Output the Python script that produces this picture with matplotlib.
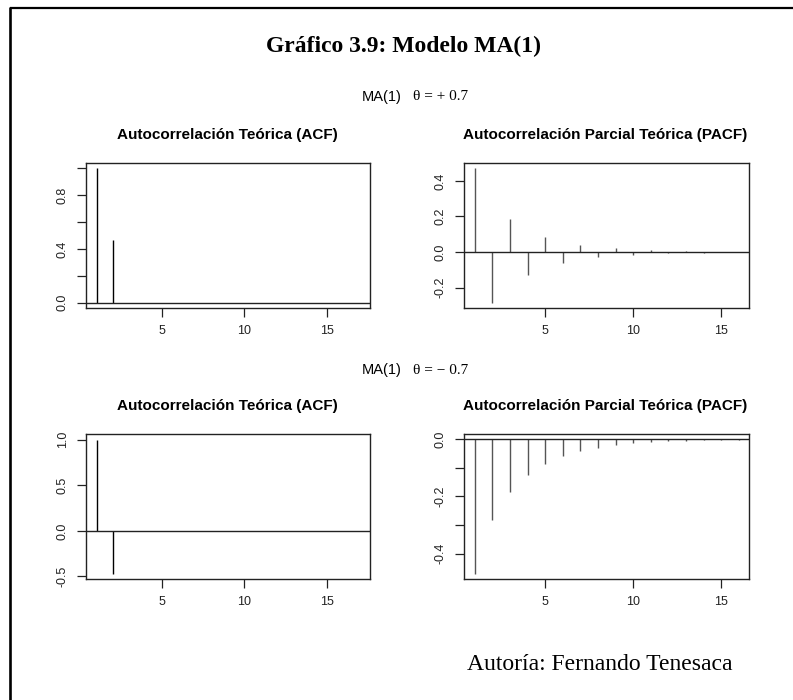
import matplotlib
matplotlib.use("Agg")
import matplotlib.pyplot as plt
from matplotlib.lines import Line2D

# ---- data ----
acf_lags = [1, 2, 3, 4, 5, 6, 7, 8, 9, 10, 11, 12, 13, 14, 15, 16, 17]
acf_pos = [1.0, 0.4698, 0, 0, 0, 0, 0, 0, 0, 0, 0, 0, 0, 0, 0, 0, 0]
acf_neg = [1.0, -0.4698, 0, 0, 0, 0, 0, 0, 0, 0, 0, 0, 0, 0, 0, 0, 0]
pacf_lags = [1, 2, 3, 4, 5, 6, 7, 8, 9, 10, 11, 12, 13, 14, 15, 16]
pacf_pos = [0.4698, -0.2832, 0.1856, -0.1260, 0.0869, -0.0604, 0.0421, -0.0295,
            0.0206, -0.0144, 0.0101, -0.0071, 0.0049, -0.0035, 0.0024, -0.0017]
pacf_neg = [-0.4698, -0.2832, -0.1856, -0.1260, -0.0869, -0.0604, -0.0421, -0.0295,
            -0.0206, -0.0144, -0.0101, -0.0071, -0.0049, -0.0035, -0.0024, -0.0017]
x_ticks = [5, 10, 15]
main_title = "Gráfico 3.9: Modelo MA(1)"
footer = "Autoría: Fernando Tenesaca"
acf_title = "Autocorrelación Teórica (ACF)"
pacf_title = "Autocorrelación Parcial Teórica (PACF)"
theta_labels = ["θ = + 0.7", "θ = − 0.7"]

W, H = 793, 700
fig = plt.figure(figsize=(W / 100, H / 100), dpi=100)
fig.patch.set_facecolor("white")

SANS = "Liberation Sans"
SERIF = "Liberation Serif"


def fx(px):
    return px / W


def fy(py):
    return 1 - py / H


def make_ax(left, top, right, bottom):
    return fig.add_axes([fx(left), fy(bottom), fx(right) - fx(left), (bottom - top) / H])


def style(ax, yticks, ylabels):
    for s in ax.spines.values():
        s.set_linewidth(1.0)
        s.set_color("#222222")
    ax.set_xticks(x_ticks)
    ax.set_xticklabels([str(t) for t in x_ticks], fontfamily=SANS, fontsize=9, color="#222222")
    ax.set_yticks(yticks)
    ax.set_yticklabels(ylabels, fontfamily=SANS, fontsize=9, color="#222222",
                       rotation=90, va="center")
    ax.tick_params(length=6.5, width=0.9, color="#222222", pad=6.0)


def acf_plot(ax, x, y, ylim, yticks, ylabels):
    ax.vlines(x, 0, y, color="black", lw=1.0)
    ax.axhline(0, color="#222222", lw=1.0)
    ax.set_xlim(0.36, 17.64)
    ax.set_ylim(*ylim)
    style(ax, yticks, ylabels)


def pacf_plot(ax, x, y, ylim, yticks, ylabels):
    ax.vlines(x, 0, y, color="#555555", lw=1.0)
    ax.axhline(0, color="#222222", lw=1.0)
    ax.set_xlim(0.4, 16.6)
    ax.set_ylim(*ylim)
    style(ax, yticks, ylabels)


# top row
ax1 = make_ax(86, 163, 370, 308)
acf_plot(ax1, acf_lags, acf_pos, (-0.04, 1.04),
         [0, 0.2, 0.4, 0.6, 0.8, 1.0], ["0.0", "", "0.4", "", "0.8", ""])
ax2 = make_ax(464.3, 163, 749.3, 308)
pacf_plot(ax2, pacf_lags, pacf_pos, (-0.3133, 0.4999),
          [-0.2, 0.0, 0.2, 0.4], ["-0.2", "0.0", "0.2", "0.4"])

# bottom row
ax3 = make_ax(86, 434.3, 370, 579)
acf_plot(ax3, acf_lags, acf_neg, (-0.5286, 1.0588),
         [-0.5, 0.0, 0.5, 1.0], ["-0.5", "0.0", "0.5", "1.0"])
ax4 = make_ax(464.3, 434.3, 749.3, 579)
pacf_plot(ax4, pacf_lags, pacf_neg, (-0.4885, 0.0170),
          [0.0, -0.1, -0.2, -0.3, -0.4], ["0.0", "", "-0.2", "", "-0.4"])

# panel titles
for ty in (135, 406):
    fig.text(fx(227.5), fy(ty), acf_title, fontfamily=SANS, fontweight="bold",
             fontsize=11, ha="center", va="center")
    fig.text(fx(605), fy(ty), pacf_title, fontfamily=SANS, fontweight="bold",
             fontsize=11, ha="center", va="center")

# model headings
for ty, lab in zip((97, 370), theta_labels):
    fig.text(fx(362), fy(ty), "MA(1)", fontfamily=SANS, fontsize=10.5, ha="left", va="center")
    fig.text(fx(413), fy(ty), lab, fontfamily=SERIF, fontsize=11, ha="left", va="center")

# main title & footer
fig.text(fx(403), fy(46), main_title, fontfamily=SERIF, fontweight="bold",
         fontsize=17, ha="center", va="center")
fig.text(fx(600), fy(664), footer, fontfamily=SERIF, fontsize=17, ha="center", va="center")

# frame lines (top and left)
fig.add_artist(Line2D([fx(9.5), 1.0], [fy(7.5), fy(7.5)], color="black", lw=1.6,
                      solid_capstyle="butt"))
fig.add_artist(Line2D([fx(10), fx(10)], [0.0, fy(6.5)], color="black", lw=1.9,
                      solid_capstyle="butt"))

fig.savefig("out.png", dpi=100, facecolor="white")
